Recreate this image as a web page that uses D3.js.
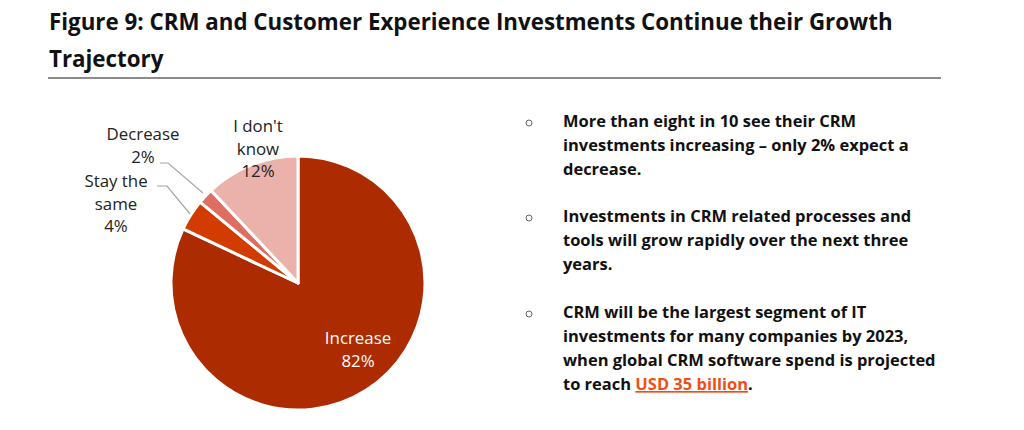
<!DOCTYPE html>
<html>
<head>
<meta charset="utf-8">
<script src="https://cdn.jsdelivr.net/npm/d3@7"></script>
<style>
	body { margin: 0; background: #fff; }
	#chart { width: 1024px; height: 430px; }
	text { font-family: "Open Sans", Lato, sans-serif; }
</style>
</head>
<body>
<div id="chart"></div>
<script>
const title_lines = ["Figure 9: CRM and Customer Experience Investments Continue their Growth", "Trajectory"];

// pie data (clockwise from 12 o'clock)
const categories = ["Increase", "Stay the same", "Decrease", "I don't know"];
const values = [82, 4, 2, 12];
const label_lines = [["Increase", "82%"], ["Stay the", "same", "4%"], ["Decrease", "2%"], ["I don't", "know", "12%"]];
const colors = ["#ad2b00", "#d23c00", "#de6e62", "#ebb2ac"];

const bullets = [
	["More than eight in 10 see their CRM", "investments increasing \u2013 only 2% expect a", "decrease."],
	["Investments in CRM related processes and", "tools will grow rapidly over the next three", "years."],
	["CRM will be the largest segment of IT", "investments for many companies by 2023,", "when global CRM software spend is projected", "to reach "]
];
const link_text = "USD 35 billion";

const width = 1024, height = 430;
const cx = 298, cy = 283, radius = 127;

let svg = d3.select("#chart").append("svg")
	.attr("width", width)
	.attr("height", height);

// find the font size that gives a string a given width
function fit_size(str, target, weight) {
	let t = svg.append("text")
		.attr("font-size", 20)
		.attr("font-weight", weight)
		.text(str);
	let w = t.node().getComputedTextLength();
	t.remove();
	return 20 * target / w;
}

const title_size = fit_size(title_lines[0], 844, "bold");
const note_size = fit_size(bullets[2][2], 373, "bold");
const label_size = fit_size("Decrease", 73, "normal");

// title
// ---------------------------
svg.append("g").selectAll("text")
	.data(title_lines)
	.enter()
	.append("text")
	.attr("x", 49)
	.attr("y", (d, i) => 30 + i * 37)
	.attr("font-size", title_size)
	.attr("font-weight", "bold")
	.attr("fill", "#111")
	.text(d => d);

svg.append("line")
	.attr("x1", 48).attr("x2", 941)
	.attr("y1", 78).attr("y2", 78)
	.attr("stroke", "#666")
	.attr("stroke-width", 1.5);

// pie
// ---------------------------
let pie = d3.pie().sort(null).value(d => d)(values);
let arc = d3.arc().innerRadius(0).outerRadius(radius);

let plot = svg.append("g")
	.attr("transform", "translate(" + cx + "," + cy + ")");

plot.selectAll("path")
	.data(pie)
	.enter()
	.append("path")
	.attr("d", arc)
	.attr("fill", (d, i) => colors[i])
	.attr("stroke", "#fff")
	.attr("stroke-width", 3)
	.attr("stroke-linejoin", "round");

// labels (positions relative to pie centre)
const label_pos = [
	{x: 60, y: 61, fill: "#fff"},
	{x: -182, y: -96, fill: "#222"},
	{x: -155, y: -143, fill: "#222"},
	{x: -40, y: -151, fill: "#222"}
];

label_lines.forEach((lines, i) => {
	plot.append("g").selectAll("text")
		.data(lines)
		.enter()
		.append("text")
		.attr("x", label_pos[i].x)
		.attr("y", (d, j) => label_pos[i].y + j * 22.5)
		.attr("text-anchor", "middle")
		.attr("font-size", label_size)
		.attr("fill", label_pos[i].fill)
		.text(d => d);
});

// leader lines
const leaders = [
	null,
	[[-141, -97], [-131, -97], [-108, -69]],
	[[-138, -120], [-130, -120], [-95, -90]],
	null
];
leaders.forEach(pts => {
	if (!pts) return;
	plot.append("path")
		.attr("d", d3.line()(pts))
		.attr("fill", "none")
		.attr("stroke", "#a6a6a6")
		.attr("stroke-width", 1.2);
});

// bullets
// ---------------------------
const bullet_y = [127, 222, 318];
let notes = svg.append("g");

bullets.forEach((lines, i) => {
	notes.append("circle")
		.attr("cx", 529)
		.attr("cy", bullet_y[i] - 4)
		.attr("r", 3)
		.attr("fill", "none")
		.attr("stroke", "#666")
		.attr("stroke-width", 1);

	let t = notes.append("g").selectAll("text")
		.data(lines)
		.enter()
		.append("text")
		.attr("x", 563)
		.attr("y", (d, j) => bullet_y[i] + j * 24)
		.attr("font-size", note_size)
		.attr("font-weight", "bold")
		.attr("fill", "#111")
		.text(d => d);

	if (i == 2) {
		let last = t.filter((d, j) => j == lines.length - 1);
		last.append("tspan")
			.attr("fill", "#f04e14")
			.attr("text-decoration", "underline")
			.text(link_text);
		last.append("tspan")
			.attr("fill", "#111")
			.text(".");
	}
});
</script>
</body>
</html>
